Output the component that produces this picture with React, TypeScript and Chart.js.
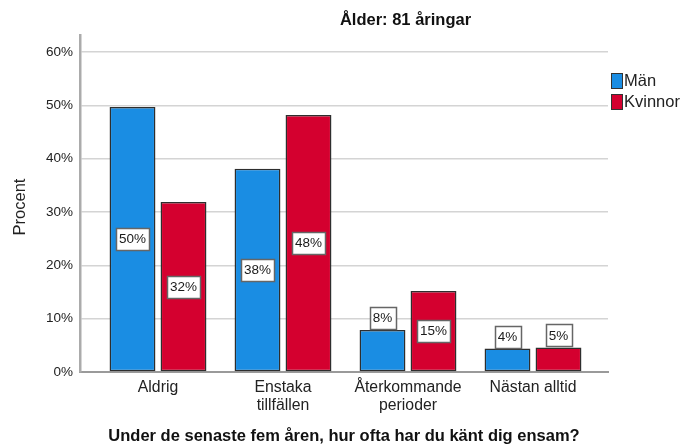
import React, { useEffect, useRef } from "react";
import { Chart, registerables } from "chart.js";

Chart.register(...registerables);

const chartTitle = "Ålder: 81 åringar";
const xTitle = "Under de senaste fem åren, hur ofta har du känt dig ensam?";
const yTitle = "Procent";
const categories: string[][] = [
  ["Aldrig"],
  ["Enstaka", "tillfällen"],
  ["Återkommande", "perioder"],
  ["Nästan alltid"],
];
const seriesNames = ["Män", "Kvinnor"];
const manValues = [49.7, 38.1, 7.9, 4.4];
const kvinnorValues = [31.9, 48.2, 15.2, 4.6];
const yTickValues = [0, 10, 20, 30, 40, 50, 60];
const seriesColors = ["#1A8DE3", "#D4002F"];

const FONT = "'Liberation Sans', Arial, sans-serif";

const overlayPlugin = {
  id: "overlay",
  afterDatasetsDraw(chart: any) {
    const ctx = chart.ctx as CanvasRenderingContext2D;
    ctx.save();
    ctx.font = `13.5px ${FONT}`;
    ctx.textAlign = "center";
    ctx.textBaseline = "middle";
    chart.data.datasets.forEach((ds: any, di: number) => {
      const meta = chart.getDatasetMeta(di);
      meta.data.forEach((el: any, i: number) => {
        const v = ds.data[i].y;
        const txt = Math.round(v) + "%";
        const tw = ctx.measureText(txt).width;
        const w = Math.round(tw + 6);
        const h = 22;
        const barH = el.base - el.y;
        let cy: number;
        if (barH > 60) cy = (el.y + el.base) / 2;
        else cy = el.y - 1 - h / 2;
        const x0 = Math.round(el.x - w / 2) + 0.5;
        const y0 = Math.round(cy - h / 2) + 0.5;
        ctx.fillStyle = "#ffffff";
        ctx.fillRect(x0, y0, w, h);
        ctx.strokeStyle = "#666666";
        ctx.lineWidth = 1.5;
        ctx.strokeRect(x0, y0, w, h);
        ctx.fillStyle = "#1a1a1a";
        ctx.fillText(txt, el.x, cy + 0.5);
      });
    });
    ctx.restore();
  },
  afterDraw(chart: any) {
    const ctx = chart.ctx as CanvasRenderingContext2D;
    const area = chart.chartArea;
    ctx.save();
    ctx.fillStyle = "#111111";
    ctx.textAlign = "center";
    ctx.textBaseline = "middle";
    ctx.font = `bold 16.5px ${FONT}`;
    ctx.fillText(chartTitle, 405.5, 20);
    ctx.fillText(xTitle, (area.left + area.right) / 2, 436);

    ctx.save();
    ctx.translate(20, 207);
    ctx.rotate(-Math.PI / 2);
    ctx.font = `16.5px ${FONT}`;
    ctx.fillStyle = "#222222";
    ctx.fillText(yTitle, 0, 0);
    ctx.restore();

    ctx.font = `16.5px ${FONT}`;
    ctx.textAlign = "left";
    seriesNames.forEach((name, i) => {
      const by = 73.5 + i * 21;
      ctx.fillStyle = seriesColors[i];
      ctx.fillRect(611.5, by, 11, 15);
      ctx.strokeStyle = "#333333";
      ctx.lineWidth = 1;
      ctx.strokeRect(611.5, by, 11, 15);
      ctx.fillStyle = "#222222";
      ctx.fillText(name, 624, by + 8);
    });
    ctx.restore();
  },
};

export default function App() {
  const canvasRef = useRef<HTMLCanvasElement | null>(null);

  useEffect(() => {
    if (!canvasRef.current) return;
    const makeDs = (vals: number[], i: number) => ({
      label: seriesNames[i],
      data: vals.map((v, k) => ({ x: k, y: v })),
      backgroundColor: seriesColors[i],
      borderColor: "#2e2e2e",
      borderWidth: 1.5,
      borderSkipped: false,
      categoryPercentage: 0.816,
      barPercentage: 0.9,
    });
    const chart = new Chart(canvasRef.current, {
      type: "bar",
      data: {
        datasets: [makeDs(manValues, 0), makeDs(kvinnorValues, 1)],
      },
      options: {
        animation: false,
        responsive: false,
        devicePixelRatio: 1,
        layout: { padding: { top: 35, right: 74, left: 0, bottom: 0 } },
        plugins: {
          legend: { display: false },
          tooltip: { enabled: false },
          title: { display: false },
        },
        scales: {
          x: {
            type: "linear",
            offset: false,
            min: -0.624,
            max: 3.6,
            grid: { display: false, drawTicks: false, offset: false },
            border: { display: true, color: "#9a9a9a", width: 2 },
            afterBuildTicks: (s: any) => {
              s.ticks = categories.map((_, i) => ({ value: i }));
            },
            afterFit: (s: any) => {
              s.height = 76;
            },
            ticks: {
              padding: 7,
              autoSkip: false,
              maxRotation: 0,
              color: "#222222",
              font: { family: FONT, size: 15.8, lineHeight: 1.12 },
              callback: (v: any) => categories[Math.round(Number(v))] ?? "",
            },
          },
          y: {
            type: "linear",
            min: 0,
            max: 63.2,
            grid: { color: "#d4d4d4", lineWidth: 1.5, drawTicks: false },
            border: { display: true, color: "#ababab", width: 2.5 },
            afterBuildTicks: (s: any) => {
              s.ticks = yTickValues.map((v) => ({ value: v }));
            },
            afterFit: (s: any) => {
              s.width = 80;
            },
            ticks: {
              padding: 7,
              color: "#222222",
              font: { family: FONT, size: 13.5 },
              callback: (v: any) => v + "%",
            },
          },
        },
      },
      plugins: [overlayPlugin],
    } as any);
    return () => chart.destroy();
  }, []);

  return (
    <div style={{ position: "absolute", left: 0, top: 0, width: 682, height: 448, background: "#ffffff" }}>
      <canvas ref={canvasRef} width={682} height={448} style={{ display: "block" }} />
    </div>
  );
}
